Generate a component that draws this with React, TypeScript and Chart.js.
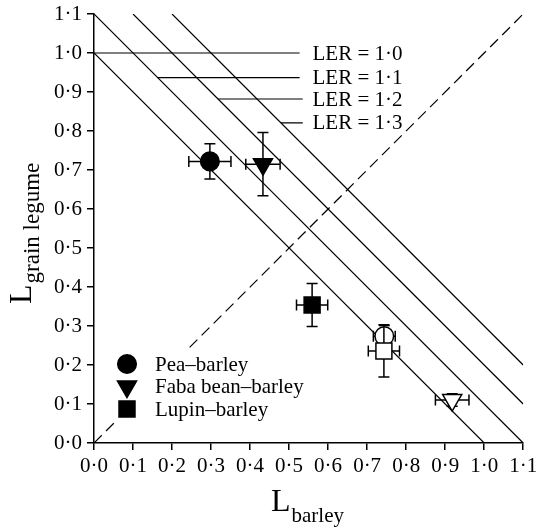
import React, { useEffect, useRef } from "react";
import { Chart, registerables } from "chart.js";

Chart.register(...registerables);

// ---------- data ----------
const tickValues = [0, 0.1, 0.2, 0.3, 0.4, 0.5, 0.6, 0.7, 0.8, 0.9, 1.0, 1.1];
const tickLabels = ["0·0", "0·1", "0·2", "0·3", "0·4", "0·5", "0·6", "0·7", "0·8", "0·9", "1·0", "1·1"];

const lerValues = [1.0, 1.1, 1.2, 1.3];
const lerLabels = ["LER = 1·0", "LER = 1·1", "LER = 1·2", "LER = 1·3"];
const leaderY = [1.0, 0.937, 0.882, 0.821];
const leaderEndX = [0.527, 0.527, 0.535, 0.535];
const leaderLabelX = 0.56;

const diagonalSegments = [
  [0, 0.06],
  [0.245, 1.1],
];

const groups = ["Pea–barley", "Faba bean–barley", "Lupin–barley"];
const markerStyles = ["circle", "triangle", "rect"];

const filledX = [0.297, 0.433, 0.559];
const filledY = [0.722, 0.715, 0.354];
const filledXErr = [0.054, 0.044, 0.04];
const filledYErr = [0.045, 0.081, 0.055];

const openX = [0.744, 0.918, 0.743];
const openY = [0.274, 0.11, 0.236];
const openXErr = [0.028, 0.043, 0.04];
const openYErr = [0.027, 0.016, 0.067];

const AXIS_MAX = 1.1;
const FONT = "'Liberation Serif', 'Times New Roman', serif";

function markerRadius(style: string) {
  if (style === "circle") return 9.3;
  if (style === "triangle") return 11;
  return 11.3;
}

function drawMarker(ctx: CanvasRenderingContext2D, style: string, x: number, y: number, filled: boolean) {
  const r = markerRadius(style);
  ctx.save();
  ctx.beginPath();
  if (style === "circle") {
    ctx.arc(x, y, r, 0, Math.PI * 2);
  } else if (style === "triangle") {
    ctx.moveTo(x, y + r);
    ctx.lineTo(x - r * Math.sqrt(3) / 2, y - r / 2);
    ctx.lineTo(x + r * Math.sqrt(3) / 2, y - r / 2);
    ctx.closePath();
  } else {
    const s = r * Math.SQRT1_2;
    ctx.rect(x - s, y - s, 2 * s, 2 * s);
  }
  ctx.fillStyle = filled ? "#000" : "#fff";
  ctx.fill();
  ctx.lineWidth = 1.5;
  ctx.strokeStyle = "#000";
  ctx.stroke();
  ctx.restore();
}

const overlayPlugin = {
  id: "overlay",
  beforeDatasetDraw(chart: any, args: any) {
    const ds = chart.data.datasets[args.index];
    if (!ds.errX) return;
    const xs = chart.scales.x;
    const ys = chart.scales.y;
    const ctx = chart.ctx as CanvasRenderingContext2D;
    const cap = 5.5;
    ctx.save();
    ctx.strokeStyle = "#000";
    ctx.lineWidth = 1.5;
    ds.data.forEach((p: any, i: number) => {
      const ex = ds.errX[i];
      const ey = ds.errY[i];
      const px = xs.getPixelForValue(p.x);
      const py = ys.getPixelForValue(p.y);
      const x0 = xs.getPixelForValue(p.x - ex);
      const x1 = xs.getPixelForValue(p.x + ex);
      const y0 = ys.getPixelForValue(p.y - ey);
      const y1 = ys.getPixelForValue(p.y + ey);
      ctx.beginPath();
      ctx.moveTo(x0, py);
      ctx.lineTo(x1, py);
      ctx.moveTo(x0, py - cap);
      ctx.lineTo(x0, py + cap);
      ctx.moveTo(x1, py - cap);
      ctx.lineTo(x1, py + cap);
      ctx.moveTo(px, y0);
      ctx.lineTo(px, y1);
      ctx.moveTo(px - cap, y0);
      ctx.lineTo(px + cap, y0);
      ctx.moveTo(px - cap, y1);
      ctx.lineTo(px + cap, y1);
      ctx.stroke();
    });
    ctx.restore();
  },
  afterDraw(chart: any) {
    const ctx = chart.ctx as CanvasRenderingContext2D;
    const xs = chart.scales.x;
    const ys = chart.scales.y;
    const area = chart.chartArea;
    ctx.save();
    ctx.fillStyle = "#000";
    // LER labels
    ctx.font = `21px ${FONT}`;
    ctx.textAlign = "left";
    ctx.textBaseline = "middle";
    lerLabels.forEach((t, i) => {
      ctx.fillText(t, xs.getPixelForValue(leaderLabelX), ys.getPixelForValue(leaderY[i]) + 1);
    });
    // legend
    const legX = area.left + 33;
    const legY0 = area.bottom - 79;
    const legStep = 22.5;
    groups.forEach((g, i) => {
      const y = legY0 + i * legStep;
      drawMarker(ctx, markerStyles[i], legX, y, true);
      ctx.fillStyle = "#000";
      ctx.font = `21px ${FONT}`;
      ctx.textAlign = "left";
      ctx.textBaseline = "middle";
      ctx.fillText(g, legX + 28, y + 1);
    });
    // x axis title
    ctx.textBaseline = "alphabetic";
    ctx.textAlign = "left";
    ctx.font = `32px ${FONT}`;
    const xl = 271;
    const xb = 511;
    ctx.fillText("L", xl, xb);
    const lw = ctx.measureText("L").width;
    ctx.font = `21px ${FONT}`;
    ctx.fillText("barley", xl + lw + 1, xb + 10.5);
    // y axis title
    ctx.save();
    ctx.translate(31, 304);
    ctx.rotate(-Math.PI / 2);
    ctx.font = `32px ${FONT}`;
    ctx.fillText("L", 0, 0);
    const lw2 = ctx.measureText("L").width;
    ctx.font = `23px ${FONT}`;
    ctx.fillText("grain legume", lw2 + 1, 7.5);
    ctx.restore();
    ctx.restore();
  },
};

function lineDs(data: { x: number; y: number }[], dash: number[] = [], width = 1.2) {
  return {
    type: "scatter" as const,
    data,
    showLine: true,
    borderColor: "#000",
    borderWidth: width,
    borderDash: dash,
    pointRadius: 0,
    pointHoverRadius: 0,
    fill: false,
    order: 10,
  };
}

export default function App() {
  const ref = useRef<HTMLCanvasElement>(null);
  useEffect(() => {
    if (!ref.current) return;
    const datasets: any[] = [];
    lerValues.forEach((v) => {
      datasets.push(
        lineDs([
          { x: Math.max(0, v - AXIS_MAX), y: Math.min(v, AXIS_MAX) },
          { x: Math.min(v, AXIS_MAX), y: Math.max(0, v - AXIS_MAX) },
        ])
      );
    });
    leaderY.forEach((y, i) => {
      datasets.push(
        lineDs([
          { x: lerValues[i] - y, y },
          { x: leaderEndX[i], y },
        ])
      );
    });
    diagonalSegments.forEach(([a, b]) => {
      datasets.push(lineDs([{ x: a, y: a }, { x: b, y: b }], [11, 6], 1.2));
    });
    const openOrder = [1, 0, 2];
    groups.forEach((g, i) => {
      datasets.push({
        type: "scatter",
        label: g + " (open)",
        data: [{ x: openX[i], y: openY[i] }],
        errX: [openXErr[i]],
        errY: [openYErr[i]],
        pointStyle: markerStyles[i],
        rotation: markerStyles[i] === "triangle" ? 180 : 0,
        pointRadius: markerRadius(markerStyles[i]),
        pointBackgroundColor: "#fff",
        pointBorderColor: "#000",
        pointBorderWidth: 1.5,
        order: 5 - openOrder[i],
      });
      datasets.push({
        type: "scatter",
        label: g,
        data: [{ x: filledX[i], y: filledY[i] }],
        errX: [filledXErr[i]],
        errY: [filledYErr[i]],
        pointStyle: markerStyles[i],
        rotation: markerStyles[i] === "triangle" ? 180 : 0,
        pointRadius: markerRadius(markerStyles[i]),
        pointBackgroundColor: "#000",
        pointBorderColor: "#000",
        pointBorderWidth: 1.5,
        order: 1,
      });
    });

    const commonScale = (axis: "x" | "y") => ({
      type: "linear" as const,
      min: 0,
      max: AXIS_MAX,
      afterBuildTicks: (s: any) => {
        s.ticks = tickValues.map((v) => ({ value: v }));
      },
      afterFit: (s: any) => {
        if (axis === "y") {
          s.width = 94;
          s.paddingTop = 0;
          s.paddingBottom = 0;
        } else {
          s.height = 86;
          s.paddingLeft = 0;
          s.paddingRight = 0;
        }
      },
      grid: {
        drawOnChartArea: false,
        drawTicks: true,
        tickLength: 7,
        color: "#000",
        lineWidth: 1.5,
      },
      border: { display: true, color: "#000", width: 1.5 },
      ticks: {
        color: "#000",
        font: { family: FONT, size: 21 },
        padding: axis === "y" ? 5 : 4,
        maxRotation: 0,
        autoSkip: false,
        callback: (_v: any, i: number) => tickLabels[i],
      },
    });

    const chart = new Chart(ref.current, {
      type: "scatter",
      data: { datasets },
      options: {
        responsive: true,
        maintainAspectRatio: false,
        animation: false,
        layout: { padding: { left: 0, top: 14, right: 12, bottom: 0 } },
        plugins: {
          legend: { display: false },
          tooltip: { enabled: false },
        },
        events: [],
        scales: { x: commonScale("x"), y: commonScale("y") },
      },
      plugins: [overlayPlugin],
    } as any);
    return () => chart.destroy();
  }, []);

  return (
    <div style={{ position: "absolute", left: 0, top: 0, width: 536, height: 529, background: "#fff" }}>
      <canvas ref={ref} />
    </div>
  );
}
